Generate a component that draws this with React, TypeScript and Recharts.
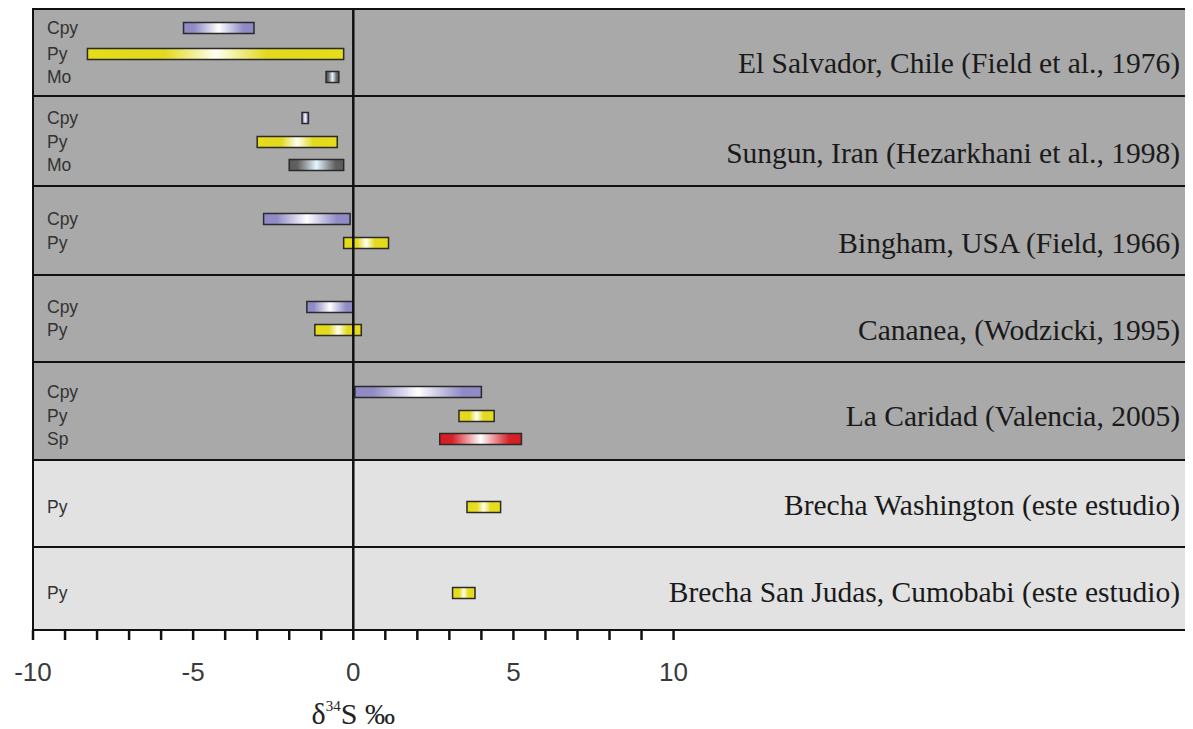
import React from "react";
import {
  BarChart,
  Bar,
  XAxis,
  YAxis,
  Cell,
  ReferenceArea,
  ReferenceLine,
} from "recharts";

// ---- data ----
const SITES = [
  "El Salvador, Chile (Field et al., 1976)",
  "Sungun, Iran (Hezarkhani et al., 1998)",
  "Bingham, USA (Field, 1966)",
  "Cananea, (Wodzicki, 1995)",
  "La Caridad (Valencia, 2005)",
  "Brecha Washington (este estudio)",
  "Brecha San Judas, Cumobabi (este estudio)",
];
// lane scale: row boundaries on the y (lane) axis
const ROW_EDGES = [0, 87, 177, 266, 353, 451, 538, 621];
const SITE_LANES = [54, 144, 234, 321, 407, 496, 583];
const ROW_SHADE = ["dark", "dark", "dark", "dark", "dark", "light", "light"];

const MINERALS = ["Cpy", "Py", "Mo", "Cpy", "Py", "Mo", "Cpy", "Py", "Cpy", "Py", "Cpy", "Py", "Sp", "Py", "Py"];
const LANES = [19, 45, 68, 109, 133, 156, 210, 234, 298, 321, 383, 407, 430, 498, 584];
const LOW = [-5.3, -8.3, -0.85, -1.6, -3.0, -2.0, -2.8, -0.3, -1.45, -1.2, 0.05, 3.3, 2.7, 3.55, 3.1];
const HIGH = [-3.1, -0.3, -0.45, -1.4, -0.5, -0.3, -0.1, 1.1, 0, 0.25, 4.0, 4.4, 5.25, 4.6, 3.8];

const X_TICKS = [-10, -9, -8, -7, -6, -5, -4, -3, -2, -1, 0, 1, 2, 3, 4, 5, 6, 7, 8, 9, 10];
const X_DOMAIN = [-10, 26];

const data = MINERALS.map((m, i) => ({ lane: LANES[i], mineral: m, range: [LOW[i], HIGH[i]] }));

const mineralAtLane = (v: number) => {
  const i = LANES.indexOf(v);
  return i >= 0 ? MINERALS[i] : "";
};

const GRADS: Record<string, [string, string]> = {
  Cpy: ["#8f8ac6", "#ffffff"],
  Py: ["#e6dc18", "#fffff4"],
  Mo: ["#5c5c5c", "#e6f6ff"],
  Sp: ["#d81c22", "#ffffff"],
};

const SERIF = "'Liberation Serif', 'Times New Roman', serif";
const SANS = "'Liberation Sans', Arial, sans-serif";

const AxisLabel = (props: any) => {
  const vb = props.viewBox || {};
  const x = vb.x;
  const y = (vb.y || 0) + (vb.height || 0) + 94;
  return (
    <text x={x} y={y} textAnchor="middle" fontFamily={SERIF} fontSize={30} fill="#222">
      δ
      <tspan fontSize={15} dy={-13}>34</tspan>
      <tspan dy={13}>S ‰</tspan>
    </text>
  );
};

const SiteLabel = (props: any) => {
  const vb = props.viewBox || {};
  const right = (vb.x || 0) + (vb.width || 0) - 6;
  return (
    <text
      x={right}
      y={vb.y || 0}
      textAnchor="end"
      dominantBaseline="central"
      fontFamily={SERIF}
      fontSize={29.5}
      fill="#1a1a1a"
    >
      {props.value}
    </text>
  );
};

export default function App() {
  return (
    <BarChart
      width={1185}
      height={721}
      data={data}
      layout="vertical"
      margin={{ top: 1, right: 7, left: 25, bottom: 39 }}
      style={{ background: "#fff" }}
    >
      <defs>
        {Object.keys(GRADS).map((k) => (
          <linearGradient key={k} id={`g-${k}`} x1="0" y1="0" x2="1" y2="0">
            <stop offset="0%" stopColor={GRADS[k][0]} />
            <stop offset={k === "Py" ? "30%" : "15%"} stopColor={GRADS[k][0]} stopOpacity={0.95} />
            <stop offset="50%" stopColor={GRADS[k][1]} />
            <stop offset={k === "Py" ? "70%" : "85%"} stopColor={GRADS[k][0]} stopOpacity={0.95} />
            <stop offset="100%" stopColor={GRADS[k][0]} />
          </linearGradient>
        ))}
      </defs>
      <XAxis
        type="number"
        domain={X_DOMAIN}
        ticks={X_TICKS}
        interval={0}
        allowDataOverflow
        tickFormatter={(v: number) => (v % 5 === 0 ? String(v) : "")}
        tickSize={10}
        tickMargin={23}
        height={60}
        axisLine={{ stroke: "#111", strokeWidth: 2 }}
        tickLine={{ stroke: "#111", strokeWidth: 2.5 }}
        tick={{ fontSize: 26, fill: "#3a3a3a", fontFamily: SANS }}
      />
      <YAxis
        yAxisId="left"
        type="number"
        dataKey="lane"
        domain={[ROW_EDGES[0], ROW_EDGES[ROW_EDGES.length - 1]]}
        allowDataOverflow
        ticks={LANES}
        interval={0}
        tickFormatter={mineralAtLane}
        mirror
        axisLine={false}
        tickLine={false}
        tickSize={0}
        tickMargin={14}
        width={1}
        tick={{ fontSize: 17.5, fill: "#333", fontFamily: SANS, textAnchor: "start" }}
      />
      {SITES.map((s, i) => (
        <ReferenceArea
          key={s}
          yAxisId="left"
          x1={X_DOMAIN[0]}
          x2={X_DOMAIN[1]}
          y1={ROW_EDGES[i]}
          y2={ROW_EDGES[i + 1]}
          fill={ROW_SHADE[i] === "dark" ? "#a9a9a9" : "#e2e2e2"}
          fillOpacity={1}
          stroke="#111"
          strokeWidth={2}
        />
      ))}
      {SITES.map((s, i) => (
        <ReferenceLine
          key={`l-${s}`}
          yAxisId="left"
          y={SITE_LANES[i]}
          stroke="none"
          label={<SiteLabel value={s} />}
        />
      ))}
      <ReferenceLine yAxisId="left" x={0} stroke="#111" strokeWidth={2.5} label={<AxisLabel />} />
      <Bar
        yAxisId="left"
        dataKey="range"
        barSize={11}
        isAnimationActive={false}
        stroke="#2a2a2a"
        strokeWidth={1.5}
      >
        {data.map((d, i) => (
          <Cell key={i} fill={`url(#g-${d.mineral})`} />
        ))}
      </Bar>
    </BarChart>
  );
}
